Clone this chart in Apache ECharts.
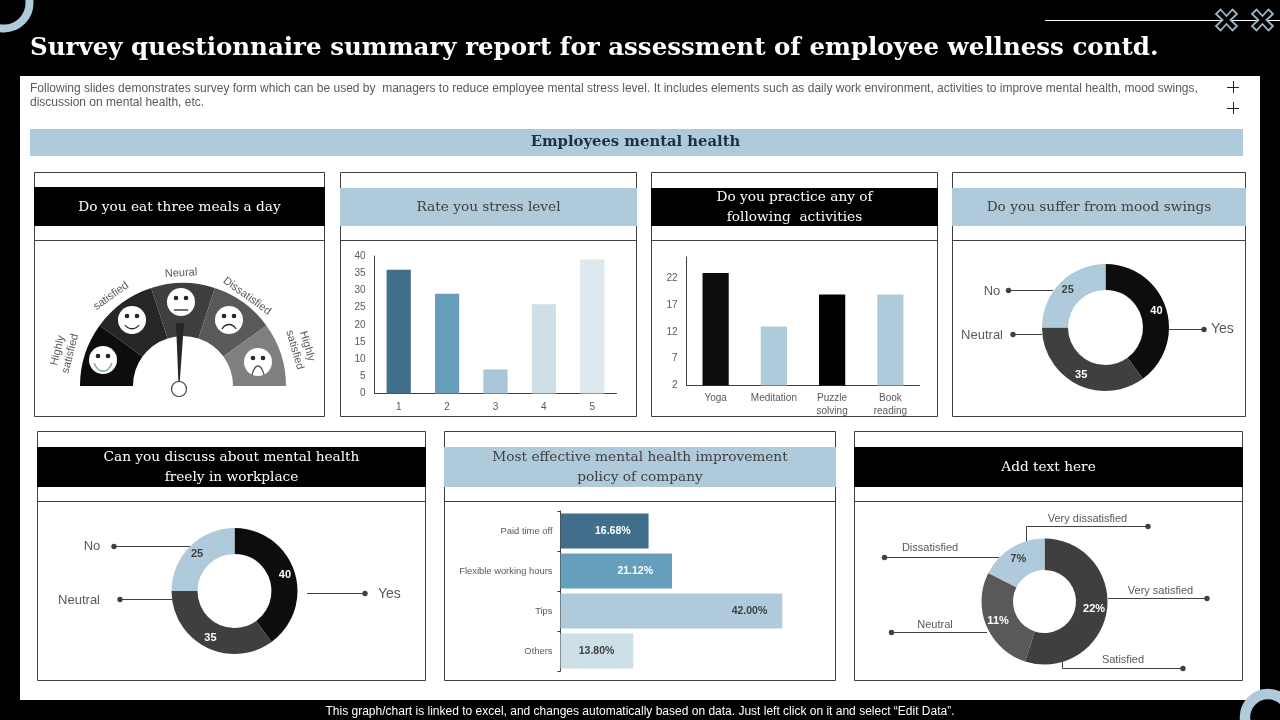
<!DOCTYPE html>
<html><head><meta charset="utf-8">
<script src="https://cdn.jsdelivr.net/npm/echarts@6/dist/echarts.min.js"></script>
<style>html,body{margin:0;padding:0;background:#000}#c{width:1280px;height:720px}</style></head>
<body><div id="c"></div>
<script>
const gaugeSlices = [1,1,1,1,1,5];
const gaugeColors = ['#0d0d0d','#262626','#3f3f3f','#595959','#7f7f7f','none'];
const stressCats = ['1','2','3','4','5'];
const stressVals = [36,29,7,26,39];
const stressColors = ['#416f8b','#659fbc','#a9c6d8','#cddfe7','#dde8ef'];
const activityCats = ['Yoga','Meditation','Puzzle\nsolving','Book\nreading'];
const activityVals = [23,13,19,19];
const activityTicks = [2,7,12,17,22];
const activityColors = ['#0d0d0d','#afcbdb','#000000','#afcbdb'];
const moodNames = ['Yes','Neutral','No'];
const moodVals = [40,35,25];
const moodColors = ['#0d0d0d','#3f3f3f','#afcbdb'];
const discussVals = [40,35,25];
const policyCats = ['Paid time off','Flexible working hours','Tips','Others'];
const policyVals = [16.68,21.12,42.00,13.80];
const policyColors = ['#416f8b','#659fbc','#afcbdb','#cddfe7'];
const policyLabelColors = ['#fff','#fff','#404040','#404040'];
const policyLabelGaps = [18,19,15,19];
const lastNames = ['Very satisfied','Neutral','Very dissatisfied'];
const lastVals = [22,11,7];
const lastColors = ['#3f3f3f','#595959','#afcbdb'];

const SERIF='"DejaVu Serif",serif', SANS='"Liberation Sans",Arial,sans-serif';
const g=[];
const rect=(x,y,w,h,fill,stroke,z)=>g.push({type:'rect',z:z||0,silent:true,shape:{x,y,width:w,height:h},style:{fill:fill||'none',stroke:stroke||'none',lineWidth:stroke?1:0}});
const line=(x1,y1,x2,y2,c,w,z)=>g.push({type:'line',z:z||0,silent:true,shape:{x1,y1,x2,y2},style:{stroke:c||'#404040',lineWidth:w||1}});
const poly=(pts,c,w,z)=>g.push({type:'polyline',z:z||3,silent:true,shape:{points:pts},style:{stroke:c||'#404040',lineWidth:w||1,fill:'none'}});
const text=(t,x,y,font,fill,align,rot,z)=>g.push({type:'text',z:z||5,silent:true,x,y,rotation:(rot||0)*Math.PI/180,style:{text:t,font,fill,align:align||'center',verticalAlign:'middle',lineHeight:Math.round(parseFloat(font.match(/([\d.]+)px/)[1])*(font.indexOf('DejaVu')>=0?1.43:1.2))}});
const circ=(cx,cy,r,fill,stroke,lw,z)=>g.push({type:'circle',z:z||5,silent:true,shape:{cx,cy,r},style:{fill:fill||'none',stroke:stroke||'none',lineWidth:lw||0}});

// page furniture
rect(20,76,1240,624,'#ffffff');
text('Survey questionnaire summary report for assessment of employee wellness contd.',30,48.5,'bold 24.5px '+SERIF,'#ffffff','left');
text('Following slides demonstrates survey form which can be used by  managers to reduce employee mental stress level. It includes elements such as daily work environment, activities to improve mental health, mood swings,\ndiscussion on mental health, etc.',30,96,'12px '+SANS,'#595959','left');
rect(30,129,1213,27,'#afcbdb');
text('Employees mental health',635.5,142,'bold 14.8px '+SERIF,'#1f3140');
text('This graph/chart is linked to excel, and changes automatically based on data. Just left click on it and select \u201cEdit Data\u201d.',640,712,'12px '+SANS,'#ffffff');
g.push({type:'arc',z:1,silent:true,shape:{cx:4,cy:3,r:25.5,startAngle:0,endAngle:Math.PI*2},style:{fill:'none',stroke:'#afcbdb',lineWidth:8}});
g.push({type:'arc',z:1,silent:true,shape:{cx:1268,cy:717,r:23,startAngle:0,endAngle:Math.PI*2},style:{fill:'none',stroke:'#afcbdb',lineWidth:10.5}});
line(1045,20.5,1280,20.5,'#ffffff',1);
[1226.5,1262.5].forEach(cx=>{
  const a=6,b=10.5,n=4,cy=20;
  g.push({type:'polygon',z:4,silent:true,shape:{points:[[cx-a,cy-b],[cx,cy-n],[cx+a,cy-b],[cx+b,cy-a],[cx+n,cy],[cx+b,cy+a],[cx+a,cy+b],[cx,cy+n],[cx-a,cy+b],[cx-b,cy+a],[cx-n,cy],[cx-b,cy-a]]},style:{fill:'#000',stroke:'#9fb6c2',lineWidth:1.8}});
});
[[1233,87],[1233,108]].forEach(([x,y])=>{line(x-6,y+.5,x+6,y+.5,'#222',1);line(x+.5,y-6,x+.5,y+6,'#222',1);});

// cards
const cards=[
 [34,172,291,245,187,226,240,'Do you eat three meals a day',1],
 [340,172,297,245,188,226,240,'Rate you stress level',0],
 [651,172,287,245,188,226,240,'Do you practice any of\nfollowing  activities',1],
 [952,172,294,245,188,226,240,'Do you suffer from mood swings',0],
 [37,431,389,250,447,487,501,'Can you discuss about mental health\nfreely in workplace',1],
 [444,431,392,250,447,487,501,'Most effective mental health improvement\npolicy of company',0],
 [854,431,389,250,447,487,501,'Add text here',1]];
cards.forEach(([x,y,w,h,t,b,d,s,dark])=>{
  rect(x+.5,y+.5,w-1,h-1,'#fff','#404040');
  rect(x,t,w,b-t,dark?'#000':'#afcbdb');
  line(x,d+.5,x+w,d+.5,'#404040',1);
  text(s,x+w/2,(t+b)/2+.5,'13.7px '+SERIF,dark?'#fff':'#404040');
});

// gauge faces
const face=(cx,cy,kind,mc)=>{
  circ(cx,cy,14,'#fff','none',0,6);
  circ(cx-5,cy-4,2.3,'#262626','none',0,7);circ(cx+5,cy-4,2.3,'#262626','none',0,7);
  const c=mc||'#262626';
  const curve=(y1,yc,w)=>g.push({type:'bezierCurve',z:7,silent:true,shape:{x1:cx-w,y1:cy+y1,x2:cx+w,y2:cy+y1,cpx1:cx-w/2,cpy1:cy+yc,cpx2:cx+w/2,cpy2:cy+yc},style:{stroke:c,lineWidth:1.3,fill:'none'}});
  if(kind==='flat') line(cx-7,cy+8,cx+7,cy+8,c,1.3,7);
  if(kind==='smile') curve(5,10,7);
  if(kind==='big') curve(3,14,9);
  if(kind==='sad') curve(9,3,7);
  if(kind==='bigsad') curve(13,1,6);
};
face(103,360,'big','#6fa890');face(132,320,'smile');face(181,302,'flat');face(229,320,'sad');face(258,362,'bigsad','#595959');
g.push({type:'polygon',z:8,silent:true,shape:{points:[[176,323],[184,323],[179.5,385],[178.5,385]]},style:{fill:'#262626'}});
circ(179,389,7.5,'#fff','#404040',1.2,8);
const gf='11px '+SANS,gc='#595959';
text('Highly\nsatisfied',64,352,gf,gc,'center',76);
text('satisfied',111,296,gf,gc,'center',36);
text('Neural',181,273,gf,gc,'center',3);
text('Dissatisfied',247,296,gf,gc,'center',-36);
text('Highly\nsatisfied',301,348,gf,gc,'center',-74);

// leader lines
const lead=(pts,c)=>{poly(pts,'#404040',1);const e=pts[pts.length-1];circ(e[0],e[1],2.7,'#404040');};
const lf='14px '+SANS,lf2='13px '+SANS,lc='#595959';
lead([[1053,290.5],[1008.5,290.5]]);text('No',992,291,lf2,lc);
lead([[1042,334.5],[1013,334.5]]);text('Neutral',1003,335,lf2,lc,'right');
lead([[1169,329.5],[1204,329.5]]);text('Yes',1211,329,lf,lc,'left');
lead([[190,546.5],[114,546.5]]);text('No',92,546,lf2,lc);
lead([[172,599.5],[120,599.5]]);text('Neutral',100,600.5,lf2,lc,'right');
lead([[307,593.5],[365,593.5]]);text('Yes',378,594,lf,lc,'left');
const sf='11px '+SANS;
lead([[1026.5,541],[1026.5,526.5],[1148,526.5]]);text('Very dissatisfied',1087.5,518.5,sf,lc);
lead([[999,557.5],[884.5,557.5]]);text('Dissatisfied',930,547.5,sf,lc);
lead([[1108,598.5],[1207,598.5]]);text('Very satisfied',1160.5,590.5,sf,lc);
lead([[987,632.5],[891.5,632.5]]);text('Neutral',935,624.5,sf,lc);
lead([[1062.5,662],[1062.5,668.5],[1183,668.5]]);text('Satisfied',1123,659.5,sf,lc);

const pieData=(names,vals,cols,fmt,lab)=>vals.map((v,i)=>({name:names[i],value:v,itemStyle:{color:cols[i]},label:{color:lab[i],formatter:fmt(v)}}));
const donut=(names,vals,cols,c,r,fmt,lab)=>({type:'pie',silent:true,animation:false,center:c,radius:r,startAngle:90,clockwise:true,
  label:{show:true,position:'inside',fontWeight:'bold',fontSize:11,fontFamily:SANS},labelLine:{show:false},data:pieData(names,vals,cols,fmt,lab)});
const axisLine={show:true,lineStyle:{color:'#404040',width:1}};
const tick={color:'#595959',fontFamily:SANS,fontSize:10};

const option={
 backgroundColor:'#000',animation:false,graphic:{elements:g},
 grid:[
  {left:374.5,top:256,width:242,height:137.5},
  {left:686.5,top:257,width:233,height:128.5},
  {left:560.5,top:511,width:264,height:160}],
 xAxis:[
  {gridIndex:0,type:'category',data:stressCats,axisLine,axisTick:{show:false},axisLabel:{...tick,margin:9}},
  {gridIndex:1,type:'category',data:activityCats,axisLine,axisTick:{show:false},axisLabel:{...tick,interval:0,margin:6,lineHeight:13}},
  {gridIndex:2,type:'value',min:0,max:50,show:false,splitLine:{show:false}}],
 yAxis:[
  {gridIndex:0,type:'value',min:0,max:40,interval:5,axisLine,axisTick:{show:false},splitLine:{show:false},axisLabel:{...tick,margin:9}},
  {gridIndex:1,type:'value',min:2,max:26,axisLine,axisTick:{show:false},splitLine:{show:false},axisLabel:{...tick,margin:9,customValues:activityTicks}},
  {gridIndex:2,type:'category',inverse:true,data:policyCats,axisLine,axisTick:{show:true,length:3,lineStyle:{color:'#404040'}},axisLabel:{...tick,fontSize:9.4,margin:8}}],
 series:[
  {type:'pie',silent:true,animation:false,center:[183,386],radius:[50,103],startAngle:180,clockwise:true,label:{show:false},labelLine:{show:false},
   data:gaugeSlices.map((v,i)=>({value:v,itemStyle:{color:gaugeColors[i]}}))},
  {type:'bar',xAxisIndex:0,yAxisIndex:0,barWidth:'50%',silent:true,data:stressVals.map((v,i)=>({value:v,itemStyle:{color:stressColors[i]}}))},
  {type:'bar',xAxisIndex:1,yAxisIndex:1,barWidth:'45%',silent:true,data:activityVals.map((v,i)=>({value:v,itemStyle:{color:activityColors[i]}}))},
  {type:'bar',xAxisIndex:2,yAxisIndex:2,barWidth:'87.5%',silent:true,
   data:policyVals.map((v,i)=>({value:v,itemStyle:{color:policyColors[i]},label:{show:true,position:'insideRight',distance:policyLabelGaps[i],color:policyLabelColors[i],fontFamily:SANS,fontWeight:'bold',fontSize:10.5,formatter:v.toFixed(2)+'%'}}))},
  donut(moodNames,moodVals,moodColors,[1105.5,327.5],[37.5,63.5],v=>String(v),['#fff','#fff','#404040']),
  donut(moodNames,discussVals,moodColors,[234.5,591],[37,63],v=>String(v),['#fff','#fff','#404040']),
  donut(lastNames,lastVals,lastColors,[1044.5,601.5],[31.5,63],v=>v+'%',['#fff','#fff','#404040'])
 ]
};
echarts.init(document.getElementById('c'),null,{renderer:'canvas'}).setOption(option);
</script></body></html>
